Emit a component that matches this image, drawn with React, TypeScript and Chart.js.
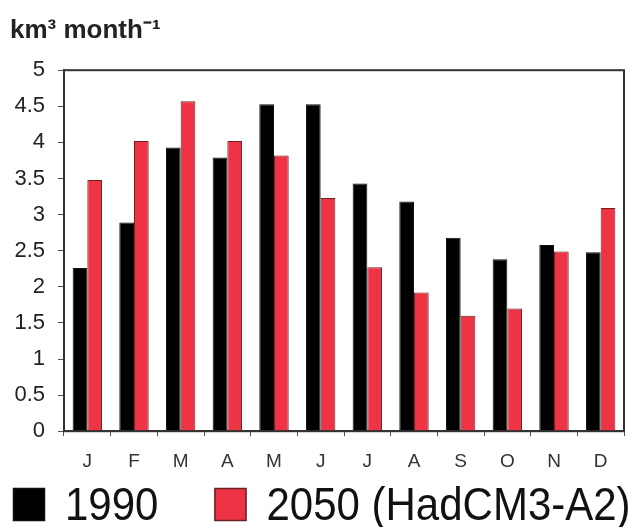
import React, { useEffect, useRef } from "react";
import { Chart, registerables } from "chart.js";

Chart.register(...registerables);

const months = ["J", "F", "M", "A", "M", "J", "J", "A", "S", "O", "N", "D"];
const values1990 = [2.26, 2.89, 3.93, 3.79, 4.53, 4.53, 3.43, 3.18, 2.68, 2.38, 2.58, 2.48];
const values2050 = [3.48, 4.02, 4.57, 4.02, 3.82, 3.23, 2.27, 1.92, 1.6, 1.7, 2.49, 3.09];
const seriesNames = ["1990", "2050 (HadCM3-A2)"];
const seriesColors = ["#000000", "#EE3344"];
const seriesBorders = ["#111111", "#6a2222"];
const yTicks = [0, 0.5, 1, 1.5, 2, 2.5, 3, 3.5, 4, 4.5, 5];

const FONT = "'Liberation Sans', Arial, sans-serif";

const frame = {
  id: "frame",
  afterDatasetsDraw(chart: any) {
    const { ctx, chartArea } = chart;
    ctx.save();
    ctx.strokeStyle = "#333";
    ctx.lineWidth = 2;
    ctx.strokeRect(chartArea.left, chartArea.top, chartArea.right - chartArea.left, chartArea.bottom - chartArea.top);
    ctx.restore();
  },
};

const bigLegend = {
  id: "bigLegend",
  afterDraw(chart: any) {
    const { ctx } = chart;
    const baseY = chart.height - 7;
    const boxTop = chart.height - 39;
    const boxSize = 32;
    ctx.save();
    ctx.font = `42px ${FONT}`;
    let x = 13;
    chart.data.datasets.forEach((ds: any, i: number) => {
      ctx.fillStyle = ds.backgroundColor;
      ctx.fillRect(x, boxTop, boxSize, boxSize + 1);
      ctx.strokeStyle = seriesBorders[i];
      ctx.lineWidth = 1.5;
      ctx.strokeRect(x + 0.5, boxTop + 0.5, boxSize - 1, boxSize);
      const tx = x + 52;
      ctx.save();
      ctx.translate(tx, baseY);
      ctx.scale(1, 1.12);
      ctx.fillStyle = "#111";
      ctx.textBaseline = "alphabetic";
      ctx.fillText(ds.label, 0, 0);
      ctx.restore();
      const w = ctx.measureText(ds.label).width;
      x = tx + w + 56;
    });
    ctx.restore();
  },
};

export default function App() {
  const ref = useRef<HTMLCanvasElement | null>(null);
  useEffect(() => {
    if (!ref.current) return;
    const chart = new Chart(ref.current, {
      type: "bar",
      data: {
        labels: months,
        datasets: seriesNames.map((name, i) => ({
          label: name,
          data: i === 0 ? values1990 : values2050,
          backgroundColor: seriesColors[i],
          borderColor: seriesBorders[i],
          borderWidth: 1,
          categoryPercentage: 0.63,
          barPercentage: 1,
        })),
      },
      options: {
        animation: false,
        responsive: false,
        maintainAspectRatio: false,
        layout: { padding: { left: 10, right: 16, top: 6, bottom: 40 } },
        plugins: {
          title: {
            display: true,
            text: "km³ month⁻¹",
            align: "start",
            color: "#222",
            font: { family: FONT, size: 26, weight: "bold" },
            padding: { top: 9, bottom: 24 },
          },
          legend: { display: false },
          tooltip: { enabled: false },
        },
        scales: {
          x: {
            grid: {
              display: true,
              drawOnChartArea: false,
              drawTicks: true,
              tickLength: 5,
              color: "#555",
              lineWidth: 1,
            },
            border: { display: true, color: "#333", width: 2 },
            ticks: {
              color: "#333",
              font: { family: FONT, size: 19 },
              padding: 14,
            },
          },
          y: {
            min: 0,
            max: 5,
            afterBuildTicks(axis: any) {
              axis.ticks = yTicks.map((v) => ({ value: v }));
            },
            afterFit(axis: any) {
              axis.width = 54;
            },
            grid: {
              display: true,
              drawOnChartArea: false,
              drawTicks: true,
              tickLength: 6,
              color: "#555",
              lineWidth: 1,
            },
            border: { display: true, color: "#333", width: 2 },
            ticks: {
              color: "#222",
              font: { family: FONT, size: 22 },
              padding: 13,
              callback: (v: any) => String(v),
            },
          },
        },
      },
      plugins: [frame, bigLegend],
    });
    return () => chart.destroy();
  }, []);
  return (
    <div style={{ position: "fixed", left: 0, top: 0, width: 640, height: 527, background: "#fff" }}>
      <canvas ref={ref} width={640} height={527} style={{ width: 640, height: 527 }} />
    </div>
  );
}
